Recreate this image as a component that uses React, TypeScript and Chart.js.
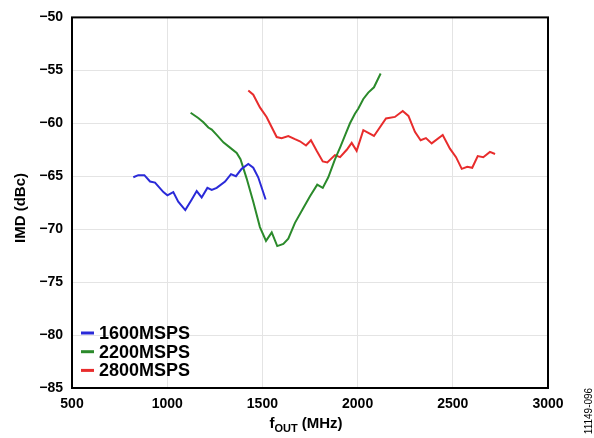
import React, { useEffect, useRef } from "react";
import { Chart, registerables } from "chart.js";

Chart.register(...registerables);

const SERIES_LABELS = ["1600MSPS", "2200MSPS", "2800MSPS"];
const SERIES_COLORS = ["#2a2ad8", "#2b8a2b", "#e82c2c"];

const FREQ_1600 = [822, 848, 880, 910, 936, 980, 1001, 1032, 1058, 1095, 1129, 1155, 1181, 1211, 1234, 1260, 1304, 1335, 1361, 1391, 1426, 1452, 1478, 1517];
const IMD_1600 = [-65.1, -64.9, -64.9, -65.5, -65.6, -66.5, -66.8, -66.5, -67.4, -68.2, -67.2, -66.4, -67.0, -66.1, -66.3, -66.1, -65.5, -64.8, -65.0, -64.3, -63.85, -64.2, -65.1, -67.2];

const FREQ_2200 = [1123, 1163, 1190, 1216, 1234, 1260, 1295, 1330, 1365, 1385, 1417, 1452, 1487, 1519, 1549, 1578, 1610, 1636, 1671, 1715, 1750, 1788, 1817, 1846, 1881, 1910, 1935, 1960, 1986, 2004, 2030, 2056, 2086, 2121];
const IMD_2200 = [-59.0, -59.5, -59.9, -60.4, -60.6, -61.1, -61.8, -62.3, -62.8, -63.4, -65.2, -67.4, -69.8, -71.1, -70.3, -71.6, -71.4, -70.9, -69.4, -68.0, -66.9, -65.8, -66.1, -65.1, -63.4, -62.2, -61.1, -60.0, -59.1, -58.6, -57.7, -57.1, -56.6, -55.3];

const FREQ_2800 = [1426, 1452, 1487, 1522, 1575, 1601, 1636, 1671, 1697, 1729, 1755, 1785, 1817, 1841, 1881, 1908, 1943, 1969, 1995, 2030, 2086, 2149, 2196, 2237, 2267, 2301, 2331, 2359, 2389, 2447, 2485, 2517, 2547, 2576, 2602, 2631, 2660, 2695, 2722];
const IMD_2800 = [-56.9, -57.3, -58.5, -59.4, -61.3, -61.4, -61.2, -61.5, -61.7, -62.1, -61.6, -62.6, -63.6, -63.7, -63.0, -63.2, -62.5, -61.85, -62.6, -60.65, -61.2, -59.55, -59.4, -58.84, -59.3, -60.8, -61.6, -61.4, -61.9, -61.1, -62.4, -63.2, -64.3, -64.1, -64.2, -63.1, -63.2, -62.7, -62.9];

const X_MIN = 500;
const X_MAX = 3000;
const X_STEP = 500;
const Y_MIN = -85;
const Y_MAX = -50;
const Y_STEP = 5;

const FONT = "'Liberation Sans', Arial, Helvetica, sans-serif";

const toPoints = (xs: number[], ys: number[]) => xs.map((x, i) => ({ x, y: ys[i] }));

const overlayPlugin = {
  id: "overlay",
  afterDraw(chart: any) {
    const { ctx, chartArea } = chart;
    const { left, right, top, bottom } = chartArea;
    ctx.save();
    // frame
    ctx.strokeStyle = "#000";
    ctx.lineWidth = 2;
    ctx.strokeRect(left, top, right - left, bottom - top);

    // legend
    const ds = chart.data.datasets;
    ds.forEach((d: any, i: number) => {
      const y = 333 + i * 18.7;
      ctx.strokeStyle = d.borderColor;
      ctx.lineWidth = 3;
      ctx.beginPath();
      ctx.moveTo(81, y);
      ctx.lineTo(94, y);
      ctx.stroke();
      ctx.fillStyle = "#000";
      ctx.font = `bold 18px ${FONT}`;
      ctx.textAlign = "left";
      ctx.textBaseline = "middle";
      ctx.fillText(d.label, 99, y + 1);
    });

    // y title
    ctx.save();
    ctx.translate(21, 208);
    ctx.rotate(-Math.PI / 2);
    ctx.font = `bold 15px ${FONT}`;
    ctx.fillStyle = "#000";
    ctx.textAlign = "center";
    ctx.textBaseline = "middle";
    ctx.fillText("IMD (dBc)", 0, 0);
    ctx.restore();

    // x title with subscript
    const big = `bold 15px ${FONT}`;
    const small = `bold 11px ${FONT}`;
    ctx.font = big;
    const wf = ctx.measureText("f").width;
    const wm = ctx.measureText(" (MHz)").width;
    ctx.font = small;
    const wo = ctx.measureText("OUT").width;
    const total = wf + wo + wm;
    let x = 306 - total / 2;
    const base = 428;
    ctx.textAlign = "left";
    ctx.textBaseline = "alphabetic";
    ctx.fillStyle = "#000";
    ctx.font = big;
    ctx.fillText("f", x, base);
    x += wf;
    ctx.font = small;
    ctx.fillText("OUT", x, base + 4);
    x += wo;
    ctx.font = big;
    ctx.fillText(" (MHz)", x, base);

    // figure id
    ctx.save();
    ctx.translate(589, 411);
    ctx.rotate(-Math.PI / 2);
    ctx.font = `10px ${FONT}`;
    ctx.textAlign = "center";
    ctx.textBaseline = "middle";
    ctx.fillText("11149-096", 0, 0);
    ctx.restore();

    ctx.restore();
  },
};

export default function App() {
  const ref = useRef<HTMLCanvasElement | null>(null);

  useEffect(() => {
    if (!ref.current) return;
    const chart = new Chart(ref.current, {
      type: "line",
      data: {
        datasets: [
          { label: SERIES_LABELS[0], data: toPoints(FREQ_1600, IMD_1600), borderColor: SERIES_COLORS[0], backgroundColor: SERIES_COLORS[0] },
          { label: SERIES_LABELS[1], data: toPoints(FREQ_2200, IMD_2200), borderColor: SERIES_COLORS[1], backgroundColor: SERIES_COLORS[1] },
          { label: SERIES_LABELS[2], data: toPoints(FREQ_2800, IMD_2800), borderColor: SERIES_COLORS[2], backgroundColor: SERIES_COLORS[2] },
        ].map((d) => ({ ...d, borderWidth: 2, pointRadius: 0, tension: 0, fill: false })),
      },
      options: {
        responsive: false,
        animation: false,
        devicePixelRatio: 1,
        layout: { padding: { left: 0, right: 46, top: 8, bottom: 0 } },
        plugins: { legend: { display: false }, tooltip: { enabled: false } },
        scales: {
          x: {
            type: "linear",
            min: X_MIN,
            max: X_MAX,
            afterFit: (s: any) => { s.height = 50; },
            ticks: {
              stepSize: X_STEP,
              color: "#000",
              padding: 8,
              maxRotation: 0,
              font: { family: FONT, size: 14, weight: "bold" },
              callback: (v: any) => String(v),
            },
            grid: { color: "#e4e4e4", lineWidth: 1, drawTicks: false },
            border: { display: false },
          },
          y: {
            min: Y_MIN,
            max: Y_MAX,
            afterFit: (s: any) => { s.width = 72; },
            ticks: {
              stepSize: Y_STEP,
              color: "#000",
              padding: 9,
              font: { family: FONT, size: 14, weight: "bold" },
              callback: (v: any) => String(v).replace("-", "\u2212"),
            },
            grid: { color: "#e4e4e4", lineWidth: 1, drawTicks: false },
            border: { display: false },
          },
        },
      },
      plugins: [overlayPlugin],
    } as any);
    return () => chart.destroy();
  }, []);

  return (
    <div style={{ position: "fixed", left: 0, top: 0, width: 594, height: 438, background: "#fff" }}>
      <canvas ref={ref} width={594} height={438} style={{ width: 594, height: 438, display: "block" }} />
    </div>
  );
}
